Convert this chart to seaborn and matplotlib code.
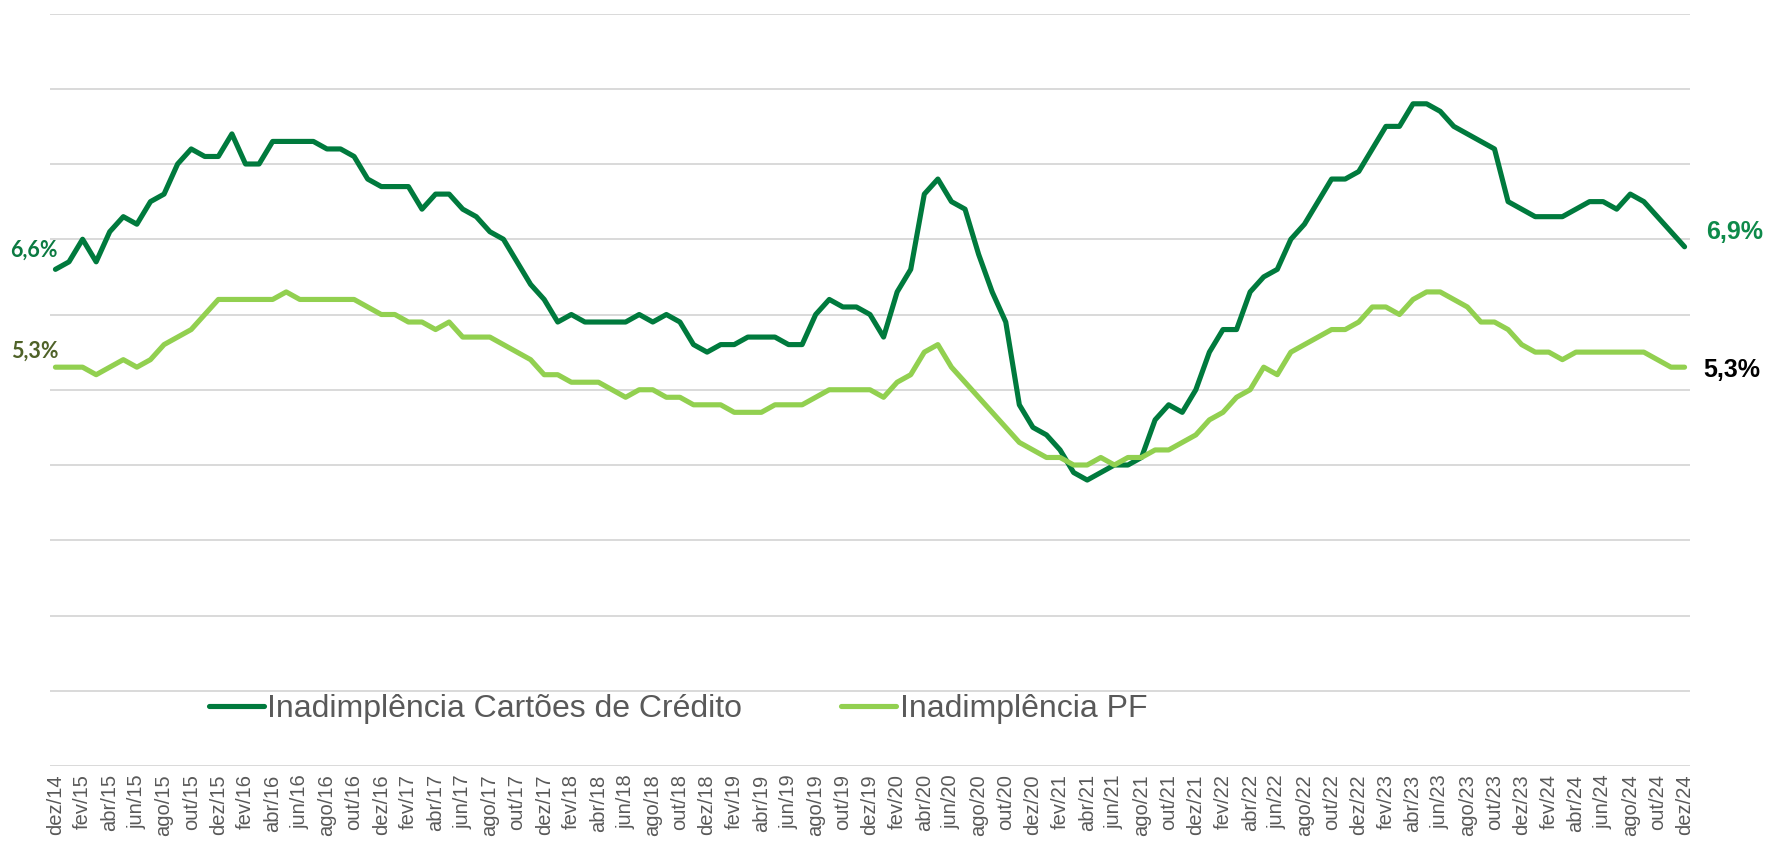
import matplotlib
matplotlib.use("Agg")
import matplotlib.pyplot as plt
import seaborn as sns
import pandas as pd

# monthly series, dez/14 .. dez/24 (%)
cartoes = [6.6,
           6.7, 7.0, 6.7, 7.1, 7.3, 7.2, 7.5, 7.6, 8.0, 8.2, 8.1, 8.1,
           8.4, 8.0, 8.0, 8.3, 8.3, 8.3, 8.3, 8.2, 8.2, 8.1, 7.8, 7.7,
           7.7, 7.7, 7.4, 7.6, 7.6, 7.4, 7.3, 7.1, 7.0, 6.7, 6.4, 6.2,
           5.9, 6.0, 5.9, 5.9, 5.9, 5.9, 6.0, 5.9, 6.0, 5.9, 5.6, 5.5,
           5.6, 5.6, 5.7, 5.7, 5.7, 5.6, 5.6, 6.0, 6.2, 6.1, 6.1, 6.0,
           5.7, 6.3, 6.6, 7.6, 7.8, 7.5, 7.4, 6.8, 6.3, 5.9, 4.8, 4.5,
           4.4, 4.2, 3.9, 3.8, 3.9, 4.0, 4.0, 4.1, 4.6, 4.8, 4.7, 5.0,
           5.5, 5.8, 5.8, 6.3, 6.5, 6.6, 7.0, 7.2, 7.5, 7.8, 7.8, 7.9,
           8.2, 8.5, 8.5, 8.8, 8.8, 8.7, 8.5, 8.4, 8.3, 8.2, 7.5, 7.4,
           7.3, 7.3, 7.3, 7.4, 7.5, 7.5, 7.4, 7.6, 7.5, 7.3, 7.1, 6.9]

pf = [5.3,
      5.3, 5.3, 5.2, 5.3, 5.4, 5.3, 5.4, 5.6, 5.7, 5.8, 6.0, 6.2,
      6.2, 6.2, 6.2, 6.2, 6.3, 6.2, 6.2, 6.2, 6.2, 6.2, 6.1, 6.0,
      6.0, 5.9, 5.9, 5.8, 5.9, 5.7, 5.7, 5.7, 5.6, 5.5, 5.4, 5.2,
      5.2, 5.1, 5.1, 5.1, 5.0, 4.9, 5.0, 5.0, 4.9, 4.9, 4.8, 4.8,
      4.8, 4.7, 4.7, 4.7, 4.8, 4.8, 4.8, 4.9, 5.0, 5.0, 5.0, 5.0,
      4.9, 5.1, 5.2, 5.5, 5.6, 5.3, 5.1, 4.9, 4.7, 4.5, 4.3, 4.2,
      4.1, 4.1, 4.0, 4.0, 4.1, 4.0, 4.1, 4.1, 4.2, 4.2, 4.3, 4.4,
      4.6, 4.7, 4.9, 5.0, 5.3, 5.2, 5.5, 5.6, 5.7, 5.8, 5.8, 5.9,
      6.1, 6.1, 6.0, 6.2, 6.3, 6.3, 6.2, 6.1, 5.9, 5.9, 5.8, 5.6,
      5.5, 5.5, 5.4, 5.5, 5.5, 5.5, 5.5, 5.5, 5.5, 5.4, 5.3, 5.3]

meses = ["jan", "fev", "mar", "abr", "mai", "jun",
         "jul", "ago", "set", "out", "nov", "dez"]
# month label for each point (dez/14 first)
rotulos = ["dez/14"] + [f"{m}/{a}" for a in range(15, 25) for m in meses]

nome_cartoes = "Inadimplência Cartões de Crédito"
nome_pf = "Inadimplência PF"

cor_cartoes = "#007A3D"
cor_pf = "#92D050"
cinza = "#595959"

df = pd.DataFrame({"mes": range(len(cartoes)), "cartoes": cartoes, "pf": pf})

sns.set_style("white")
plt.rcParams["font.family"] = ["Liberation Sans", "DejaVu Sans"]

fig = plt.figure(figsize=(17.7, 8.56), dpi=100)
ax = fig.add_axes([50 / 1770, 1 - 766 / 856, 1640 / 1770, (766 - 13.5) / 856])

sns.lineplot(data=df, x="mes", y="cartoes", ax=ax, color=cor_cartoes, lw=3.7,
             label=nome_cartoes, solid_capstyle="round", solid_joinstyle="round")
sns.lineplot(data=df, x="mes", y="pf", ax=ax, color=cor_pf, lw=3.7,
             label=nome_pf, solid_capstyle="round", solid_joinstyle="round")

ax.set_xlim(-0.4, len(cartoes) - 0.6)
ax.set_ylim(0, 10)
ax.set_yticks(range(0, 11))
ax.yaxis.grid(True, color="#d9d9d9", lw=1.4)
ax.xaxis.grid(False)
ax.set_yticklabels([])
ax.tick_params(axis="y", length=0)
for s in ax.spines.values():
    s.set_visible(False)

ax.set_xticks(df["mes"][::2])
ax.set_xticklabels(rotulos[::2], rotation=90, fontsize=14.5, color=cinza)
ax.tick_params(axis="x", length=0, pad=6)
ax.set_xlabel("")
ax.set_ylabel("")

# value labels at the start and the end
px = 0.72
ax.annotate("6,6%", xy=(0, cartoes[0]), xytext=(-22 * px, 19 * px),
            textcoords="offset points", ha="center", va="center",
            fontsize=15.5, fontweight="bold", color="#0B7A41", family=["Lato", "DejaVu Sans"])
ax.annotate("5,3%", xy=(0, pf[0]), xytext=(-21 * px, 16 * px),
            textcoords="offset points", ha="center", va="center",
            fontsize=15.5, fontweight="bold", color="#4F6228", family=["Lato", "DejaVu Sans"])
ax.annotate("6,9%", xy=(len(cartoes) - 1, cartoes[-1]), xytext=(50 * px, 15 * px),
            textcoords="offset points", ha="center", va="center",
            fontsize=18, fontweight="bold", color="#0E8A4A")
ax.annotate("5,3%", xy=(len(pf) - 1, pf[-1]), xytext=(47 * px, -3 * px),
            textcoords="offset points", ha="center", va="center",
            fontsize=18, fontweight="bold", color="black")

leg = ax.legend(loc="center", bbox_to_anchor=(0.383, 0.0757), ncol=2, frameon=False,
                handlelength=1.72, handletextpad=0.12, columnspacing=3.1,
                prop={"family": ["Liberation Sans", "DejaVu Sans"], "size": 23})
for t in leg.get_texts():
    t.set_color(cinza)

fig.savefig("out.png", dpi=100)
plt.close(fig)
